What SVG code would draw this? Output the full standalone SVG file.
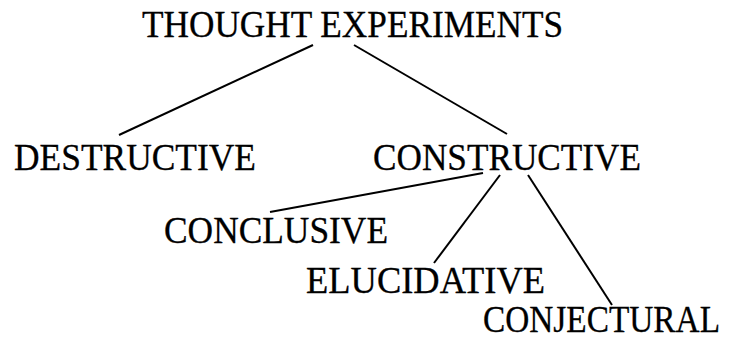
<svg xmlns="http://www.w3.org/2000/svg" width="735" height="342" viewBox="0 0 735 342">
<style>
text{font-family:"Liberation Serif","Times New Roman",serif;font-size:37px;fill:#000;stroke:#000;stroke-width:0.3}
.edge{stroke:#000;stroke-width:2;fill:none}
</style>
<rect width="735" height="342" fill="#fff"/>
<g id="connectors">
<line class="edge" x1="313" y1="45" x2="119" y2="135"/>
<line class="edge" x1="354" y1="45" x2="507" y2="134"/>
<line class="edge" x1="483" y1="173" x2="270" y2="212"/>
<line class="edge" x1="500" y1="175" x2="434" y2="263"/>
<line class="edge" x1="528" y1="175" x2="612" y2="305"/>
</g>
<g id="thought"><text x="142" y="37" font-size="38" textLength="421" lengthAdjust="spacingAndGlyphs">THOUGHT EXPERIMENTS</text></g>
<g id="destructive"><text x="14" y="170" textLength="242" lengthAdjust="spacingAndGlyphs">DESTRUCTIVE</text></g>
<g id="constructive"><text x="373" y="170" textLength="268" lengthAdjust="spacingAndGlyphs">CONSTRUCTIVE</text></g>
<g id="conclusive"><text x="164" y="243" textLength="224" lengthAdjust="spacingAndGlyphs">CONCLUSIVE</text></g>
<g id="elucidative"><text x="306" y="293" textLength="239" lengthAdjust="spacingAndGlyphs">ELUCIDATIVE</text></g>
<g id="conjectural"><text x="483" y="332" font-size="36" textLength="237" lengthAdjust="spacingAndGlyphs">CONJECTURAL</text></g>
</svg>
